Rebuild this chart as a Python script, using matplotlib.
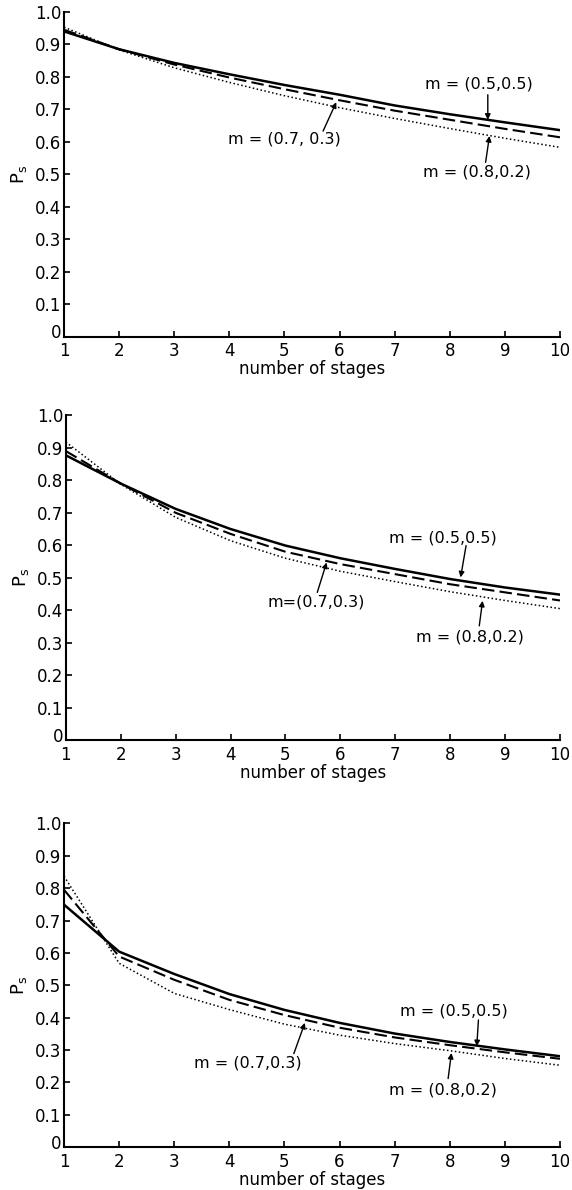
import matplotlib.pyplot as plt
import matplotlib.transforms as mtransforms

stages = [1, 2, 3, 4, 5, 6, 7, 8, 9, 10]

# panel 1
top_m55 = [0.940, 0.885, 0.843, 0.808, 0.775, 0.745, 0.712, 0.685, 0.660, 0.636]
top_m73 = [0.945, 0.885, 0.838, 0.798, 0.762, 0.728, 0.696, 0.668, 0.640, 0.614]
top_m82 = [0.953, 0.883, 0.828, 0.783, 0.742, 0.705, 0.672, 0.641, 0.611, 0.583]

# panel 2
mid_m55 = [0.877, 0.790, 0.712, 0.650, 0.599, 0.560, 0.527, 0.496, 0.470, 0.448]
mid_m73 = [0.890, 0.790, 0.700, 0.635, 0.580, 0.542, 0.511, 0.480, 0.455, 0.430]
mid_m82 = [0.918, 0.788, 0.686, 0.614, 0.560, 0.520, 0.488, 0.457, 0.430, 0.405]

# panel 3
bot_m55 = [0.749, 0.604, 0.535, 0.473, 0.424, 0.384, 0.351, 0.325, 0.302, 0.281]
bot_m73 = [0.795, 0.589, 0.517, 0.455, 0.408, 0.369, 0.339, 0.315, 0.293, 0.273]
bot_m82 = [0.837, 0.568, 0.475, 0.425, 0.380, 0.346, 0.320, 0.298, 0.274, 0.253]

y_ticks = [0, 0.1, 0.2, 0.3, 0.4, 0.5, 0.6, 0.7, 0.8, 0.9, 1.0]
y_ticklabels = ['0', '0.1', '0.2', '0.3', '0.4', '0.5', '0.6', '0.7', '0.8', '0.9', '1.0']

# label text, text position, arrow tail, arrow head (data coords)
notes_top = [
    ('m = (0.5,0.5)', (8.52, 0.778), (8.69, 0.745), (8.69, 0.668)),
    ('m = (0.7, 0.3)', (5.0, 0.608), (5.70, 0.633), (5.94, 0.722)),
    ('m = (0.8,0.2)', (8.5, 0.506), (8.65, 0.537), (8.72, 0.618)),
]
notes_mid = [
    ('m = (0.5,0.5)', (7.86, 0.621), (8.29, 0.599), (8.19, 0.501)),
    ('m=(0.7,0.3)', (5.56, 0.426), (5.58, 0.455), (5.75, 0.547)),
    ('m = (0.8,0.2)', (8.36, 0.319), (8.53, 0.352), (8.59, 0.429)),
]
notes_bot = [
    ('m = (0.5,0.5)', (8.07, 0.421), (8.52, 0.393), (8.49, 0.312)),
    ('m = (0.7,0.3)', (4.33, 0.260), (5.17, 0.289), (5.37, 0.384)),
    ('m = (0.8,0.2)', (7.87, 0.176), (7.97, 0.212), (8.03, 0.291)),
]

plt.rcParams['font.family'] = ['DejaVu Sans']

fig = plt.figure(figsize=(5.72, 11.9), dpi=100)
boxes = [
    [0.112, 0.717, 0.867, 0.273],
    [0.115, 0.378, 0.864, 0.273],
    [0.112, 0.036, 0.867, 0.272],
]
panels = [
    (top_m55, top_m73, top_m82, notes_top),
    (mid_m55, mid_m73, mid_m82, notes_mid),
    (bot_m55, bot_m73, bot_m82, notes_bot),
]

# nudge the "0" y label up a little so it clears the "1" below it
nudge = mtransforms.ScaledTranslation(0, 4 / 72, fig.dpi_scale_trans)

for box, (s55, s73, s82, notes) in zip(boxes, panels):
    ax = fig.add_axes(box)
    ax.plot(stages, s55, color='black', lw=1.8, linestyle='-')
    ax.plot(stages, s73, color='black', lw=1.5, linestyle=(0, (6, 2.5)))
    ax.plot(stages, s82, color='black', lw=1.1, linestyle=(0, (1, 1.6)))

    for text, tpos, tail, head in notes:
        ax.text(tpos[0], tpos[1], text, ha='center', va='center', fontsize=11.5)
        ax.annotate('', xy=head, xytext=tail,
                    arrowprops=dict(arrowstyle='-|>', color='black', lw=1.0,
                                    mutation_scale=8, shrinkA=0, shrinkB=0))

    ax.set_xlim(1, 10)
    ax.set_ylim(0, 1.0)
    ax.set_xticks(stages)
    ax.set_xticklabels([str(s) for s in stages])
    ax.set_yticks(y_ticks)
    ax.set_yticklabels(y_ticklabels)
    ax.tick_params(direction='in', length=4, width=1.2, labelsize=12, pad=2)
    ax.tick_params(axis='x', pad=4)
    zero_label = ax.get_yticklabels()[0]
    zero_label.set_transform(zero_label.get_transform() + nudge)
    for side in ['top', 'right']:
        ax.spines[side].set_visible(False)
    for side in ['left', 'bottom']:
        ax.spines[side].set_linewidth(1.5)
    ax.set_xlabel('number of stages', fontsize=12, labelpad=0)
    ax.set_ylabel(r'$\mathrm{P_s}$', fontsize=13, labelpad=4)

fig.savefig('out.png', dpi=100)
